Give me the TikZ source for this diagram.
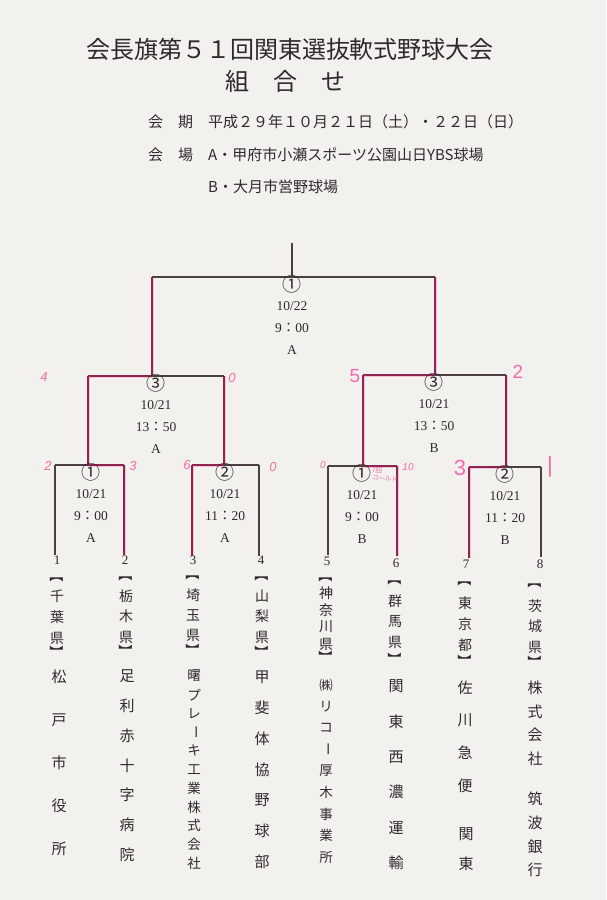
\documentclass[tikz,border=0pt]{standalone}
\usepackage{fontspec}
\usepackage{graphicx}
\setmainfont{Liberation Serif}
\newfontfamily\jp{Noto Sans CJK JP}
\newfontfamily\hand{Liberation Sans}
\definecolor{paper}{HTML}{F2F1ED}
\definecolor{ink}{HTML}{2E2A2A}
\definecolor{lineink}{HTML}{4A4040}
\definecolor{mark}{HTML}{F46BAC}
\definecolor{markdark}{HTML}{8E2452}
\newcommand\vchoon{\rotatebox[origin=c]{-90}{ー}}
\newcommand\vopen{\rotatebox[origin=c]{-90}{【}}
\newcommand\vclose{\rotatebox[origin=c]{-90}{】}}
\newcommand\vcol[5]{\foreach \ch [count=\ii from 0] in {#5} {\node[#1] at ({#2},{#3+\ii*#4}) {\ch};}}
\newcommand\matchinfo[7]{%
  \node[circ] (#1c) at (#2,#3+7.5) {#4};
  \node[lbl] (#1d) at (#2,#3+29) {#5};
  \node[lbl] (#1t) at (#2,#3+51) {#6};
  \node[lbl] (#1v) at (#2,#3+73) {#7};}
\begin{document}
\begin{tikzpicture}[x=1pt,y=-1pt,
  bl/.style={draw=lineink,line width=1.1pt},
  wl/.style={draw=markdark,line width=1.3pt,preaction={draw=mark,line width=3pt,opacity=0.35}},
  lbl/.style={inner sep=0pt,text=ink,font=\fontsize{13.5}{14}\selectfont},
  circ/.style={inner sep=0pt,text=ink,font=\jp\fontsize{19}{20}\selectfont},
  pref/.style={inner sep=0pt,text=ink,font=\jp\fontsize{14}{15}\selectfont},
  brk/.style={inner sep=0pt,text=ink,font=\jp\fontsize{14}{15}\selectfont},
  comp/.style={inner sep=0pt,text=ink,font=\jp\fontsize{15}{16}\selectfont},
  compsm/.style={inner sep=0pt,text=ink,font=\jp\fontsize{13.5}{14}\selectfont},
  hw/.style={inner sep=0pt,text=mark,font=\hand\itshape\fontsize{13}{14}\selectfont},
  hwbig/.style={inner sep=0pt,text=mark,font=\hand\fontsize{22}{24}\selectfont},
  num/.style={inner sep=0pt,text=ink,font=\fontsize{13}{14}\selectfont},
  ttl/.style={inner sep=0pt,text=ink,font=\jp\fontsize{24}{26}\selectfont},
  info/.style={inner sep=0pt,text=ink,anchor=west,font=\jp\fontsize{15}{16}\selectfont}]
\fill[paper] (0,0) rectangle (606,900);
\useasboundingbox (0,0) rectangle (606,900);

% title
\node[ttl] (title) at (290,49) {会長旗第５１回関東選抜軟式野球大会};
\node[ttl] (sub) at (285,81) {組　合　せ};
\node[info] (date) at (148,122) {会　期　平成２９年１０月２１日（土）・２２日（日）};
\node[info] (venA) at (148,155) {会　場　A・甲府市小瀬スポーツ公園山日YBS球場};
\node[info] (venB) at (208,187) {B・大月市営野球場};

% coordinates
\coordinate (top) at (292,243);
\coordinate (F) at (292,277);
\coordinate (FL) at (152,277);
\coordinate (FR) at (435,277);
\coordinate (S1) at (152,376);
\coordinate (S1L) at (88,376);
\coordinate (S1R) at (224,376);
\coordinate (S2) at (435,375);
\coordinate (S2L) at (363,375);
\coordinate (S2R) at (506,375);
\coordinate (Q1) at (88,465);
\coordinate (Q1L) at (55,465);
\coordinate (Q1R) at (124,465);
\coordinate (Q2) at (224,465);
\coordinate (Q2L) at (192,465);
\coordinate (Q2R) at (259,465);
\coordinate (Q3) at (363,466);
\coordinate (Q3L) at (328,466);
\coordinate (Q3R) at (397,466);
\coordinate (Q4) at (506,467);
\coordinate (Q4L) at (469,467);
\coordinate (Q4R) at (541,467);
\coordinate (T1) at (55,555);
\coordinate (T2) at (124,555);
\coordinate (T3) at (192,556);
\coordinate (T4) at (259,556);
\coordinate (T5) at (328,555);
\coordinate (T6) at (397,556);
\coordinate (T7) at (469,558);
\coordinate (T8) at (541,557);

% lines
\draw[bl] (top) -- (F);
\draw[bl] (FL) -- (FR);
\draw[wl] (FL) -- (S1);
\draw[wl] (FR) -- (S2);
\draw[wl] (S1L) -- (S1);
\draw[bl] (S1) -- (S1R);
\draw[wl] (S1L) -- (Q1);
\draw[wl] (S1R) -- (Q2);
\draw[wl] (S2L) -- (S2);
\draw[bl] (S2) -- (S2R);
\draw[wl] (S2L) -- (Q3);
\draw[wl] (S2R) -- (Q4);
\draw[bl] (Q1L) -- (Q1);
\draw[wl] (Q1) -- (Q1R);
\draw[bl] (Q1L) -- (T1);
\draw[wl] (Q1R) -- (T2);
\draw[wl] (Q2L) -- (Q2);
\draw[bl] (Q2) -- (Q2R);
\draw[wl] (Q2L) -- (T3);
\draw[bl] (Q2R) -- (T4);
\draw[bl] (Q3L) -- (Q3);
\draw[wl] (Q3) -- (Q3R);
\draw[bl] (Q3L) -- (T5);
\draw[wl] (Q3R) -- (T6);
\draw[wl] (Q4L) -- (Q4);
\draw[bl] (Q4) -- (Q4R);
\draw[wl] (Q4L) -- (T7);
\draw[bl] (Q4R) -- (T8);

% match info
\matchinfo{mf}{292}{277}{①}{10/22}{9{\jp ：}00}{A}
\matchinfo{ms1}{156}{376}{③}{10/21}{13{\jp ：}50}{A}
\matchinfo{ms2}{434}{375}{③}{10/21}{13{\jp ：}50}{B}
\matchinfo{mq1}{91}{465}{①}{10/21}{9{\jp ：}00}{A}
\matchinfo{mq2}{225}{465}{②}{10/21}{11{\jp ：}20}{A}
\matchinfo{mq3}{362}{466}{①}{10/21}{9{\jp ：}00}{B}
\matchinfo{mq4}{505}{467}{②}{10/21}{11{\jp ：}20}{B}

% seed numbers
\node[num] (n1) at (57,560) {1};
\node[num] (n2) at (125,560) {2};
\node[num] (n3) at (193,560) {3};
\node[num] (n4) at (261,560) {4};
\node[num] (n5) at (327,561) {5};
\node[num] (n6) at (396,563) {6};
\node[num] (n7) at (466,564) {7};
\node[num] (n8) at (540,564) {8};

% teams
\vcol{brk}{57}{575}{0}{\vopen}
\vcol{pref}{57}{596}{21}{千,葉,県}
\vcol{brk}{57}{652}{0}{\vclose}
\vcol{comp}{59}{677}{43}{松,戸,市,役,所}

\vcol{brk}{126}{574}{0}{\vopen}
\vcol{pref}{126}{596}{20.5}{栃,木,県}
\vcol{brk}{126}{651}{0}{\vclose}
\vcol{comp}{127}{676}{29.8}{足,利,赤,十,字,病,院}

\vcol{brk}{193}{573}{0}{\vopen}
\vcol{pref}{193}{595}{20}{埼,玉,県}
\vcol{brk}{193}{650}{0}{\vclose}
\vcol{compsm}{194}{676}{18.7}{曙,プ,レ,\vchoon,キ,工,業,株,式,会,社}

\vcol{brk}{262}{574}{0}{\vopen}
\vcol{pref}{262}{596}{20.5}{山,梨,県}
\vcol{brk}{262}{652}{0}{\vclose}
\vcol{comp}{262}{677}{30.8}{甲,斐,体,協,野,球,部}

\vcol{brk}{326}{575}{0}{\vopen}
\vcol{pref}{326}{593}{17}{神,奈,川,県}
\vcol{brk}{326}{657}{0}{\vclose}
\vcol{compsm}{326}{685}{21.5}{㈱,リ,コ,\vchoon,厚,木,事,業,所}

\vcol{brk}{395}{578}{0}{\vopen}
\vcol{pref}{395}{601}{20.5}{群,馬,県}
\vcol{brk}{395}{659}{0}{\vclose}
\vcol{comp}{396}{686}{35.4}{関,東,西,濃,運,輸}

\vcol{brk}{465}{579}{0}{\vopen}
\vcol{pref}{465}{603}{21}{東,京,都}
\vcol{brk}{465}{661}{0}{\vclose}
\vcol{comp}{465}{688}{32.5}{佐,川,急,便}
\vcol{comp}{466}{834}{30}{関,東}

\vcol{brk}{535}{581}{0}{\vopen}
\vcol{pref}{535}{606}{20.5}{茨,城,県}
\vcol{brk}{535}{662}{0}{\vclose}
\vcol{comp}{535}{688}{23.5}{株,式,会,社}
\vcol{comp}{535}{799}{23.7}{筑,波,銀,行}

% handwritten scores
\node[hw] (h1) at (44,377) {4};
\node[hw] (h2) at (232,378) {0};
\node[hw] (h3) at (48,466) {2};
\node[hw] (h4) at (133,466) {3};
\node[hw] (h5) at (187,465) {6};
\node[hw] (h6) at (273,467) {0};
\node[hw,font=\hand\itshape\fontsize{10}{11}\selectfont] (h7) at (323,465) {0};
\node[hw,font=\hand\itshape\fontsize{10}{11}\selectfont] (h8) at (408,467) {10};
\node[hw,font=\jp\fontsize{6.5}{7}\selectfont,align=left,rotate=-8] (h9) at (385,475) {7回\\\,コールド};
\node[hwbig,font=\hand\fontsize{19}{20}\selectfont] (h10) at (355,376) {5};
\node[hwbig,font=\hand\fontsize{19}{20}\selectfont] (h11) at (518,372) {2};
\node[hwbig] (h12) at (460,468) {3};
\node[hwbig] (h13) at (550,467) {|};
\end{tikzpicture}
\end{document}
